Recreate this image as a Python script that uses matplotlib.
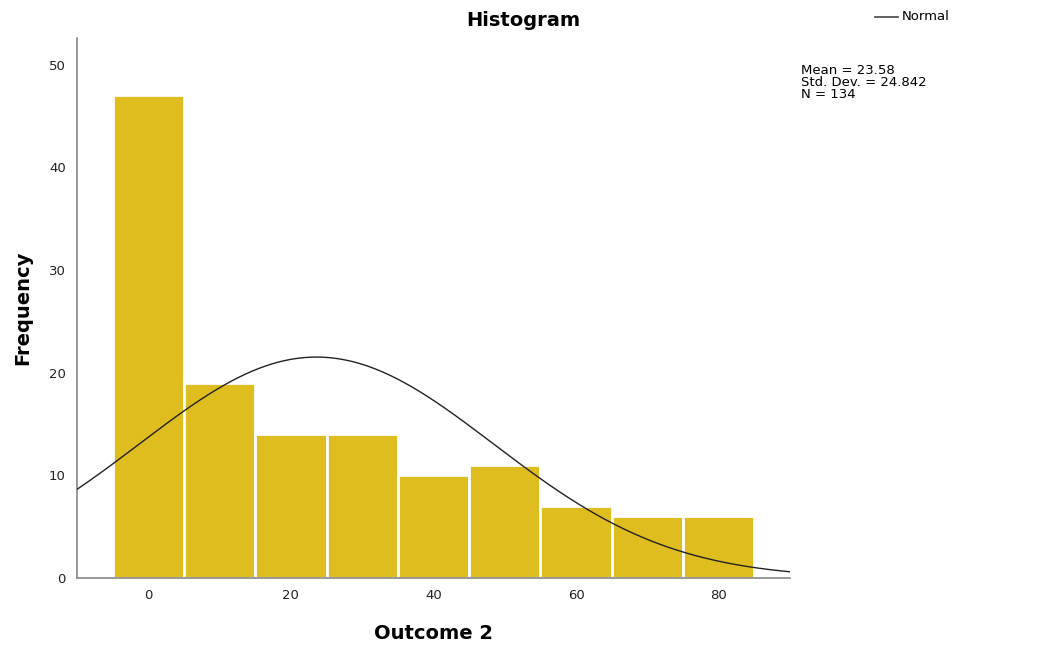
import numpy as np
import matplotlib.pyplot as plt

# Binned frequencies of Outcome 2 (bin width 10, centred on 0, 10, ..., 80)
bin_centers = [0, 10, 20, 30, 40, 50, 60, 70, 80]
frequencies = [47, 19, 14, 14, 10, 11, 7, 6, 6]
x_ticks = [0, 20, 40, 60, 80]
y_ticks = [0, 10, 20, 30, 40, 50]

mean = 23.58
std_dev = 24.842
n_obs = 134
bin_width = 10

fig = plt.figure(figsize=(10.46, 6.53), dpi=100)
ax = fig.add_axes([0.0736, 0.1149, 0.6817, 0.8269])

ax.bar(bin_centers, frequencies, width=bin_width, color="#DFBD1F",
       edgecolor="white", linewidth=2.0, zorder=2)

# Normal curve scaled to counts
xs = np.linspace(-10, 90, 400)
ys = n_obs * bin_width * np.exp(-0.5 * ((xs - mean) / std_dev) ** 2) / (std_dev * np.sqrt(2 * np.pi))
ax.plot(xs, ys, color="#222222", linewidth=1.0, zorder=3)

ax.set_xlim(-10, 90)
ax.set_ylim(0, 52.6)
ax.set_xticks(x_ticks)
ax.set_yticks(y_ticks)
ax.tick_params(length=0, labelsize=9.5, colors="#222222", pad=8)
for side in ("top", "right"):
    ax.spines[side].set_visible(False)
for side in ("left", "bottom"):
    ax.spines[side].set_color("#888888")
    ax.spines[side].set_linewidth(1.2)

ax.set_xlabel("Outcome 2", fontsize=14, fontweight="bold", labelpad=16)
ax.set_ylabel("Frequency", fontsize=14, fontweight="bold", labelpad=12)

fig.text(0.5, 0.969, "Histogram", ha="center", va="center",
         fontsize=14, fontweight="bold")

# Legend entry
fig.lines.append(plt.Line2D([875 / 1046, 898 / 1046], [1 - 17 / 653, 1 - 17 / 653],
                            transform=fig.transFigure, color="#444444", linewidth=1.2))
fig.text(902 / 1046, 1 - 17 / 653, "Normal", ha="left", va="center", fontsize=9.5)

fig.text(801 / 1046, 1 - 64 / 653,
         f"Mean = {mean}\nStd. Dev. = {std_dev}\nN = {n_obs}",
         ha="left", va="top", fontsize=9.5, linespacing=0.9)

fig.savefig("out.png", dpi=100)
